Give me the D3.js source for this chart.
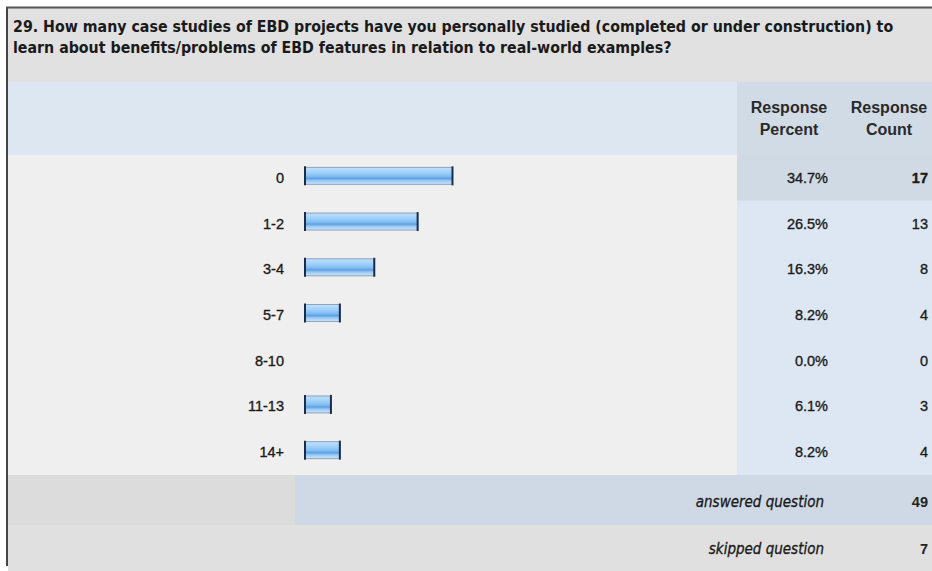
<!DOCTYPE html>
<html><head><meta charset="utf-8">
<script src="https://cdn.jsdelivr.net/npm/d3@7"></script>
<style>html,body{margin:0;padding:0;background:#fff;}svg{display:block;}</style>
</head><body>
<script>
const titleLines = ["29. How many case studies of EBD projects have you personally studied (completed or under construction) to",
                    "learn about benefits/problems of EBD features in relation to real-world examples?"];
const headerCols = [["Response","Percent"],["Response","Count"]];
const categories = ["0","1-2","3-4","5-7","8-10","11-13","14+"];
const percents = [34.7, 26.5, 16.3, 8.2, 0.0, 6.1, 8.2];
const counts = [17, 13, 8, 4, 0, 3, 4];
const summaryLabels = ["answered question","skipped question"];
const summaryValues = [49, 7];

const W = 932, H = 571;
const svg = d3.select("body").append("svg").attr("width", W).attr("height", H);

const defs = svg.append("defs");
const g = defs.append("linearGradient").attr("id","barGrad").attr("x1",0).attr("y1",0).attr("x2",0).attr("y2",1);
[["0%","#c2e1fb"],["35%","#99cdf8"],["55%","#7dbaf2"],["65%","#5c9fe2"],["78%","#98c9f4"],["100%","#cfe6fb"]]
  .forEach(([o,c])=>g.append("stop").attr("offset",o).attr("stop-color",c));

const L = 8, R = W, colX = 737;
const labelFont = "Liberation Sans, Arial, sans-serif";
// title band
svg.append("rect").attr("x",L).attr("y",8).attr("width",R-L).attr("height",74).attr("fill","#e1e1e1");
// header
svg.append("rect").attr("x",L).attr("y",82).attr("width",colX-L).attr("height",73).attr("fill","#dde7f2");
svg.append("rect").attr("x",colX).attr("y",82).attr("width",R-colX).attr("height",73).attr("fill","#d1dbe6");

const y = d3.scaleBand().domain(categories).range([155, 475]);
const x = d3.scaleLinear().domain([0, 100]).range([305, 730]);

// body backgrounds (single rects to avoid seams)
svg.append("rect").attr("x",L).attr("y",155).attr("width",colX-L).attr("height",320).attr("fill","#efefef");
svg.append("rect").attr("x",colX).attr("y",155).attr("width",R-colX).attr("height",320).attr("fill","#dde7f3");
svg.append("rect").attr("x",colX).attr("y",y(categories[0])).attr("width",R-colX).attr("height",y.bandwidth()).attr("fill","#d0dae5");

const rows = svg.append("g").selectAll("g").data(categories).join("g");
const cy = d => y(d) + y.bandwidth()/2;
const txt = (sel) => sel.attr("font-family",labelFont).attr("font-size",14.5).attr("fill","#1a1a1a")
  .attr("stroke","#1a1a1a").attr("stroke-width",0.35);

txt(rows.append("text").attr("x",284).attr("y",d=>cy(d)+5).attr("text-anchor","end")).text(d=>d);

const bh = 17;
const bars = rows.filter((d,i)=>percents[i] > 0);
bars.append("rect").attr("x",x(0)).attr("y",d=>cy(d)-2-bh/2)
  .attr("width",d=>x(percents[categories.indexOf(d)])-x(0)).attr("height",bh)
  .attr("fill","url(#barGrad)").attr("stroke","#4a6890").attr("stroke-opacity",0.55).attr("stroke-width",1);
bars.append("line").attr("x1",x(0)).attr("x2",x(0)).attr("y1",d=>cy(d)-2-bh/2-1).attr("y2",d=>cy(d)-2+bh/2+1)
  .attr("stroke","#1c2c48").attr("stroke-width",2);
bars.append("line").attr("x1",d=>x(percents[categories.indexOf(d)])).attr("x2",d=>x(percents[categories.indexOf(d)]))
  .attr("y1",d=>cy(d)-2-bh/2-1).attr("y2",d=>cy(d)-2+bh/2+1)
  .attr("stroke","#1c2c48").attr("stroke-width",2);

txt(rows.append("text").attr("x",828).attr("y",d=>cy(d)+5).attr("text-anchor","end"))
  .text((d,i)=>percents[i].toFixed(1)+"%");
txt(rows.append("text").attr("x",928).attr("y",d=>cy(d)+5).attr("text-anchor","end"))
  .attr("font-weight",(d,i)=>i===0?"bold":"normal")
  .text((d,i)=>counts[i]);

// summary rows
svg.append("rect").attr("x",L).attr("y",475).attr("width",R-L).attr("height",50).attr("fill","#dcdcdc");
svg.append("rect").attr("x",295).attr("y",475).attr("width",R-295).attr("height",50).attr("fill","#cfd9e5");
svg.append("rect").attr("x",L).attr("y",525).attr("width",R-L).attr("height",H-525).attr("fill","#e0e0e0");
const sy = [502, 549];
summaryLabels.forEach((s,i)=>{
  svg.append("text").attr("x",824).attr("y",sy[i]+5).attr("text-anchor","end")
    .attr("font-family","DejaVu Sans Condensed, DejaVu Sans, sans-serif").attr("font-style","italic")
    .attr("font-stretch","condensed").attr("font-size",15).attr("fill","#1a1a1a")
    .attr("stroke","#1a1a1a").attr("stroke-width",0.3).text(s);
  svg.append("text").attr("x",928).attr("y",sy[i]+5).attr("text-anchor","end")
    .attr("font-family",labelFont).attr("font-weight","bold")
    .attr("font-size",14.5).attr("fill","#222").text(summaryValues[i]);
});

// header texts
const hx = [789, 889];
headerCols.forEach((c,i)=>{
  c.forEach((t,j)=>{
    svg.append("text").attr("x",hx[i]).attr("y",113+j*22).attr("text-anchor","middle")
      .attr("font-family",labelFont).attr("font-weight","bold")
      .attr("font-size",16).attr("fill","#2a2a2a").text(t);
  });
});

// title
const tl = svg.append("g");
titleLines.forEach((t,i)=>{
  tl.append("text").attr("x",13).attr("y",32+i*21)
    .attr("font-family","DejaVu Sans Condensed, DejaVu Sans, sans-serif").attr("font-stretch","condensed")
    .attr("font-weight","bold").attr("font-size",14).attr("fill","#1a1a1a").text(t);
});
const first = tl.select("text").node();
const w0 = first.getComputedTextLength();
tl.selectAll("text").attr("font-size", 14 * 881 / w0);

// frame
svg.append("line").attr("x1",7).attr("x2",7).attr("y1",7).attr("y2",566).attr("stroke","#444").attr("stroke-width",2);
svg.append("line").attr("x1",6).attr("x2",W).attr("y1",7.5).attr("y2",7.5).attr("stroke","#555").attr("stroke-width",2);
</script>
</body></html>
